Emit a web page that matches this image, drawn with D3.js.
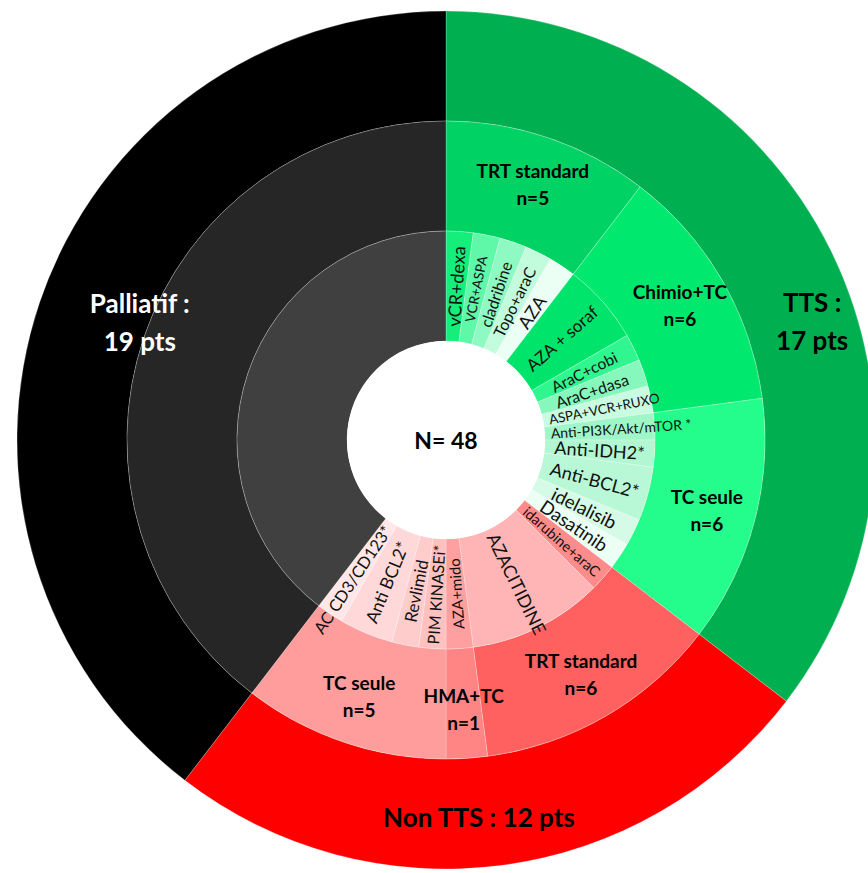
<!DOCTYPE html>
<html>
<head>
<meta charset="utf-8">
<script src="https://cdn.jsdelivr.net/npm/d3@7"></script>
<style>
body { margin: 0; background: #fff; }
text { font-family: Lato, "Open Sans", sans-serif; }
</style>
</head>
<body>
<div id="chart"></div>
<script>
// ---- data ----
var groups = ["TTS", "Non TTS", "Palliatif"];
var groupTitles = [["TTS :", "17 pts"], ["Non TTS : 12 pts"], ["Palliatif :", "19 pts"]];

var categories = ["TRT standard", "Chimio+TC", "TC seule", "TRT standard", "HMA+TC", "TC seule", ""];
var categoryGroup = [0, 0, 0, 1, 1, 1, 2];
var categoryN = [5, 6, 6, 6, 1, 5, 19];

var treatments = ["vCR+dexa", "VCR+ASPA", "cladribine", "Topo+araC", "AZA",
  "AZA + soraf", "AraC+cobi", "AraC+dasa", "ASPA+VCR+RUXO",
  "Anti-PI3K/Akt/mTOR *", "Anti-IDH2*", "Anti-BCL2*", "idelalisib", "Dasatinib",
  "idarubine+araC", "AZACITIDINE",
  "AZA+mido",
  "PIM KINASEi*", "Revlimid", "Anti BCL2*", "AC CD3/CD123*",
  ""];
var treatmentCategory = [0, 0, 0, 0, 0, 1, 1, 1, 1, 2, 2, 2, 2, 2, 3, 3, 4, 5, 5, 5, 5, 6];
var treatmentN = [1, 1, 1, 1, 1, 3, 1, 1, 1, 1, 1, 2, 1, 1, 1, 5, 1, 1, 1, 2, 1, 19];

// ---- styles ----
var groupColors = ["#00b050", "#ff0000", "#000000"];
var groupTextColors = ["#000", "#000", "#fff"];
var groupLabelPos = [[72, 385], [175, 378], [291, 328]]; // angle (deg), radius
var categoryColors = ["#00d264", "#00e96e", "#24fd8b", "#ff6161", "#ff8585", "#ff9d9d", "#262626"];
var treatmentColors = ["#14ef7b", "#5ff7a8", "#8ff9c3", "#c2fcdd", "#ebfff4",
  "#00e46b", "#30f68f", "#86f8bc", "#c9fbe1",
  "#9ff6c7", "#b1f7d2", "#b8f8d6", "#d5fbe7", "#ebfff4",
  "#ff8b8b", "#ffb5b5", "#ff9f9f", "#ffc0c0", "#ffcccc", "#ffd9d9", "#ffe7e7", "#404040"];
var treatmentFont = [18, 13.5, 16, 16, 18, 17, 15.5, 16, 13.5, 14, 18, 18, 18.5, 18.5, 14.5, 18, 15, 16, 17, 17.5, 16.5];

var width = 868, height = 873,
    cx = 446, cy = 440;

var svg = d3.select("#chart").append("svg")
    .attr("width", width)
    .attr("height", height);

var g = svg.append("g").attr("transform", "translate(" + cx + "," + cy + ")");

// build the hierarchy: group -> category -> treatment
var catNodes = categories.map(function(c, i) { return {name: c, ci: i, children: []}; });
treatments.forEach(function(t, i) {
  catNodes[treatmentCategory[i]].children.push({name: t, ti: i, value: treatmentN[i]});
});
var rootData = {name: "root", children: groups.map(function(gn, i) {
  return {name: gn, gi: i, children: catNodes.filter(function(c) { return categoryGroup[c.ci] === i; })};
})};

var root = d3.hierarchy(rootData).sum(function(d) { return d.value || 0; });
d3.partition().size([2 * Math.PI, 4])(root);

// depth 1 is the outer ring, depth 3 the inner one
var radius = d3.scaleLinear().domain([1, 4]).range([429, 99]);

var arc = d3.arc()
    .startAngle(function(d) { return d.x0; })
    .endAngle(function(d) { return d.x1; })
    .innerRadius(function(d) { return radius(d.y1); })
    .outerRadius(function(d) { return radius(d.y0); });

function fillOf(d) {
  if (d.depth === 1) return groupColors[d.data.gi];
  if (d.depth === 2) return categoryColors[d.data.ci];
  return treatmentColors[d.data.ti];
}

g.selectAll("path")
    .data(root.descendants().filter(function(d) { return d.depth > 0; }))
  .enter().append("path")
    .attr("d", arc)
    .attr("fill", fillOf)
    .attr("stroke", "#fff")
    .attr("stroke-opacity", 0.3)
    .attr("stroke-width", 0.8);

function deg(d) { return (d.x0 + d.x1) / 2 * 180 / Math.PI; }

// inner ring labels, radial; long ones pushed outward so they clear the hole
g.selectAll("text.treat")
    .data(root.descendants().filter(function(d) { return d.depth === 3 && d.data.name; }))
  .enter().append("text")
    .attr("class", "treat")
    .attr("text-anchor", "middle")
    .attr("dominant-baseline", "central")
    .style("font-size", function(d) { return treatmentFont[d.data.ti] + "px"; })
    .attr("fill", "#111")
    .text(function(d) { return d.data.name; })
    .attr("transform", function(d) {
      var a = deg(d),
          len = this.getComputedTextLength(),
          r = Math.max((radius(d.y0) + radius(d.y1)) / 2, radius(d.y1) + 6 + len / 2);
      return "rotate(" + (a - 90) + ") translate(" + r + ",0) rotate(" + (a > 170 ? 180 : 0) + ")";
    });

// middle ring labels
var cat = g.selectAll("text.cat")
    .data(root.descendants().filter(function(d) { return d.depth === 2 && d.data.name; }))
  .enter().append("text")
    .attr("class", "cat")
    .attr("text-anchor", "middle")
    .style("font-size", "19px")
    .style("font-weight", "bold")
    .attr("fill", "#000");

cat.each(function(d) {
  var a = deg(d) * Math.PI / 180, r = (radius(d.y0) + radius(d.y1)) / 2 + 6;
  var x = r * Math.sin(a), y = -r * Math.cos(a);
  var t = d3.select(this);
  t.append("tspan").attr("x", x).attr("y", y - 13.5).attr("dominant-baseline", "central").text(d.data.name);
  t.append("tspan").attr("x", x).attr("y", y + 13.5).attr("dominant-baseline", "central").text("n=" + d.value);
});

// outer ring labels
var grp = g.selectAll("text.grp")
    .data(root.children)
  .enter().append("text")
    .attr("class", "grp")
    .attr("text-anchor", "middle")
    .style("font-size", "26px")
    .style("font-weight", "bold")
    .attr("fill", function(d) { return groupTextColors[d.data.gi]; });

grp.each(function(d) {
  var p = groupLabelPos[d.data.gi], a = p[0] * Math.PI / 180;
  var x = p[1] * Math.sin(a), y = -p[1] * Math.cos(a);
  var lines = groupTitles[d.data.gi];
  var t = d3.select(this);
  lines.forEach(function(l, i) {
    t.append("tspan")
      .attr("x", x)
      .attr("y", y + (i - (lines.length - 1) / 2) * 38)
      .attr("dominant-baseline", "central")
      .text(l);
  });
});

// centre
g.append("circle").attr("r", radius(4)).attr("fill", "#fff");
g.append("text")
    .attr("text-anchor", "middle")
    .attr("dominant-baseline", "central")
    .style("font-size", "23px")
    .style("font-weight", "bold")
    .text("N= " + root.value);
</script>
</body>
</html>
